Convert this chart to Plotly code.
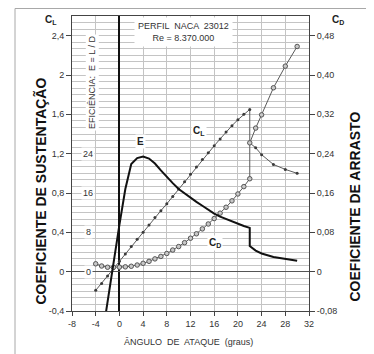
import plotly.graph_objects as go

# ---- data ----
alpha_cl = [-4, -3, -2, -1, 0, 1, 2, 3, 4, 5, 6, 7, 8, 9, 10, 11, 12, 13, 14, 15, 16, 17, 18, 19, 20, 21, 22,
            22, 23, 24, 26, 28, 30]
cl = [-0.19, -0.12, -0.045, 0.03, 0.105, 0.18, 0.255, 0.33, 0.40, 0.475, 0.55, 0.62, 0.69, 0.765, 0.84,
      0.915, 0.99, 1.065, 1.14, 1.21, 1.28, 1.35, 1.42, 1.485, 1.545, 1.60, 1.65,
      1.31, 1.26, 1.19, 1.09, 1.04, 1.00]

alpha_cd = [-4, -3, -2, -1, 0, 1, 2, 3, 4, 5, 6, 7, 8, 9, 10, 11, 12, 13, 14, 15, 16, 17, 18, 19, 20, 21, 22,
            22, 23, 24, 26, 28, 30]
cd = [0.016, 0.0115, 0.009, 0.0088, 0.0092, 0.0098, 0.011, 0.0135, 0.017, 0.021, 0.026, 0.031, 0.037,
      0.044, 0.051, 0.059, 0.068, 0.077, 0.087, 0.097, 0.108, 0.119, 0.131, 0.144, 0.158, 0.173, 0.189,
      0.262, 0.292, 0.319, 0.374, 0.418, 0.458]

alpha_e = [-3, -2, -1, 0, 1, 2, 3, 4, 5, 6, 7, 8, 9, 10, 11, 12, 13, 14, 15, 16, 17, 18, 19, 20, 21, 22,
           22, 23, 24, 26, 28, 30]
eff = [-14.0, -6.0, 1.8, 9.5, 16.8, 21.9, 23.1, 23.4, 23.0, 22.0, 20.6, 19.2, 18.0, 16.8, 15.9, 15.1,
       14.2, 13.4, 12.6, 11.8, 11.2, 10.7, 10.2, 9.7, 9.3, 8.9,
       5.2, 4.3, 3.7, 3.0, 2.6, 2.2]

x_ticks = [-8, -4, 0, 4, 8, 12, 16, 20, 24, 28, 32]
x_ticktext = ["-8", "-4", "0", "4", "8", "12", "16", "20", "24", "28", "32"]
cl_ticks = [-0.4, 0, 0.4, 0.8, 1.2, 1.6, 2.0, 2.4]
cl_ticktext = ["-0,4", "0", "0,4", "0,8", "1,2", "1,6", "2", "2,4"]
cd_ticks = [-0.08, 0, 0.08, 0.16, 0.24, 0.32, 0.40, 0.48]
cd_ticktext = ["-0,08", "0", "0,08", "0,16", "0,24", "0,32", "0,40", "0,48"]
e_ticks = [0, 8, 16, 24]

FONT = "Arial, Liberation Sans, sans-serif"
GRID = "#c4c4c4"
TXT = "#333333"

# the page body has an 8px margin: the figure is sized/placed to land the plot
# area at x 72..309, y 16..311 of the 374x354 window
W, H = 366, 346
ML, MR, MT, MB = 64, 65, 8, 43
PX0, PY1, PW, PH = 72, 311, 237, 295   # plot area in window pixels


def px(xw):
    return (xw - PX0) / PW


def py(yw):
    return (PY1 - yw) / PH


fig = go.Figure()

# carrier for the fine horizontal grid axis
fig.add_trace(go.Scatter(x=[None], y=[None], yaxis="y4", mode="lines",
                         showlegend=False, hoverinfo="skip"))

fig.add_trace(go.Scatter(
    x=alpha_cl, y=cl, mode="lines+markers", yaxis="y",
    line=dict(color="#5a5a5a", width=1),
    marker=dict(symbol="circle", size=3, color="#3a3a3a"),
    showlegend=False, hoverinfo="skip"))

fig.add_trace(go.Scatter(
    x=alpha_cd, y=cd, mode="lines+markers", yaxis="y2",
    line=dict(color="#5a5a5a", width=1),
    marker=dict(symbol="circle", size=4.5, color="#c8c8c8", line=dict(color="#555555", width=1)),
    showlegend=False, hoverinfo="skip"))

fig.add_trace(go.Scatter(
    x=alpha_e, y=eff, mode="lines", yaxis="y3",
    line=dict(color="#111111", width=2),
    showlegend=False, hoverinfo="skip"))

annotations = []
for v in e_ticks:
    annotations.append(dict(x=-5.3, y=v, xref="x", yref="y3", text=str(v), showarrow=False,
                            font=dict(size=9, color=TXT, family=FONT), bgcolor="white", borderpad=1))

annotations += [
    dict(x=-4.6, y=1.92, xref="x", yref="y", text="EFICIÊNCIA:  E = L / D", textangle=-90,
         showarrow=False, font=dict(size=9, color=TXT, family=FONT), bgcolor="white", borderpad=1),
    dict(x=10.9, y=2.44, xref="x", yref="y", text="PERFIL  NACA  23012<br>Re = 8.370.000",
         showarrow=False, font=dict(size=9, color=TXT, family=FONT), bgcolor="white", borderpad=3),
    dict(x=3.5, y=1.325, xref="x", yref="y", text="<b>E</b>", showarrow=False,
         font=dict(size=10, color="#222", family=FONT), bgcolor="white", borderpad=1),
    dict(x=13.45, y=1.43, xref="x", yref="y", text="<b>C<sub>L</sub></b>", showarrow=False,
         font=dict(size=10, color="#222", family=FONT), bgcolor="white", borderpad=1),
    dict(x=16.1, y=0.059, xref="x", yref="y2", text="<b>C<sub>D</sub></b>", showarrow=False,
         font=dict(size=10, color="#222", family=FONT), bgcolor="white", borderpad=1),
]

paper_notes = [
    (40, 191.5, "<b>COEFICIENTE DE SUSTENTAÇÃO</b>", -90, 14, "#111"),
    (355, 206.5, "<b>COEFICIENTE DE ARRASTO</b>", -90, 14, "#111"),
    (188.5, 342, "ÂNGULO  DE  ATAQUE  (graus)", 0, 9, TXT),
    (51, 20, "<b>C<sub>L</sub></b>", 0, 10, "#222"),
    (337.5, 20, "<b>C<sub>D</sub></b>", 0, 10, "#222"),
]
for xw, yw, t, ang, sz, col in paper_notes:
    annotations.append(dict(x=px(xw), y=py(yw), xref="paper", yref="paper", text=t, textangle=ang,
                            xanchor="center", yanchor="middle", showarrow=False,
                            font=dict(size=sz, color=col, family=FONT)))

fig.update_layout(
    width=W, height=H,
    margin=dict(l=ML, r=MR, t=MT, b=MB, autoexpand=False),
    paper_bgcolor="white", plot_bgcolor="white",
    font=dict(family=FONT, size=9, color=TXT),
    xaxis=dict(range=[-8, 32], tickvals=x_ticks, ticktext=x_ticktext,
               showgrid=True, gridcolor=GRID, gridwidth=1,
               zeroline=True, zerolinecolor="#111111", zerolinewidth=1.5,
               showline=True, linecolor="#444444", linewidth=1, mirror=True,
               ticks="outside", ticklen=4, tickcolor="#444444",
               tickfont=dict(size=9, color=TXT, family=FONT)),
    yaxis=dict(range=[-0.4, 2.6], tickvals=cl_ticks, ticktext=cl_ticktext,
               showgrid=True, gridcolor=GRID, gridwidth=1,
               zeroline=True, zerolinecolor="#555555", zerolinewidth=1.2,
               showline=True, linecolor="#444444", linewidth=1, mirror=True,
               ticks="outside", ticklen=5, tickcolor="#444444",
               tickfont=dict(size=9, color=TXT, family=FONT)),
    yaxis2=dict(range=[-0.08, 0.52], overlaying="y", side="right",
                tickvals=cd_ticks, ticktext=cd_ticktext,
                showgrid=False, zeroline=False,
                showline=True, linecolor="#444444", linewidth=1,
                ticks="outside", ticklen=5, tickcolor="#444444",
                tickfont=dict(size=9, color=TXT, family=FONT)),
    yaxis3=dict(range=[-8, 52], overlaying="y", visible=False),
    # fine horizontal grid (6 divisions per labelled step)
    yaxis4=dict(range=[-0.4, 2.6], overlaying="y", tickmode="linear", tick0=0, dtick=0.4 / 6,
                showgrid=True, gridcolor=GRID, gridwidth=1, showticklabels=False, ticks="",
                zeroline=False, showline=False),
    annotations=annotations,
    shapes=[dict(type="rect", xref="paper", yref="paper",
                 x0=px(15), x1=1.4, y0=-0.3, y1=py(8.5),
                 line=dict(color="#a8a8a8", width=1), fillcolor="rgba(0,0,0,0)", layer="below")],
)

fig.write_html("out.html")
